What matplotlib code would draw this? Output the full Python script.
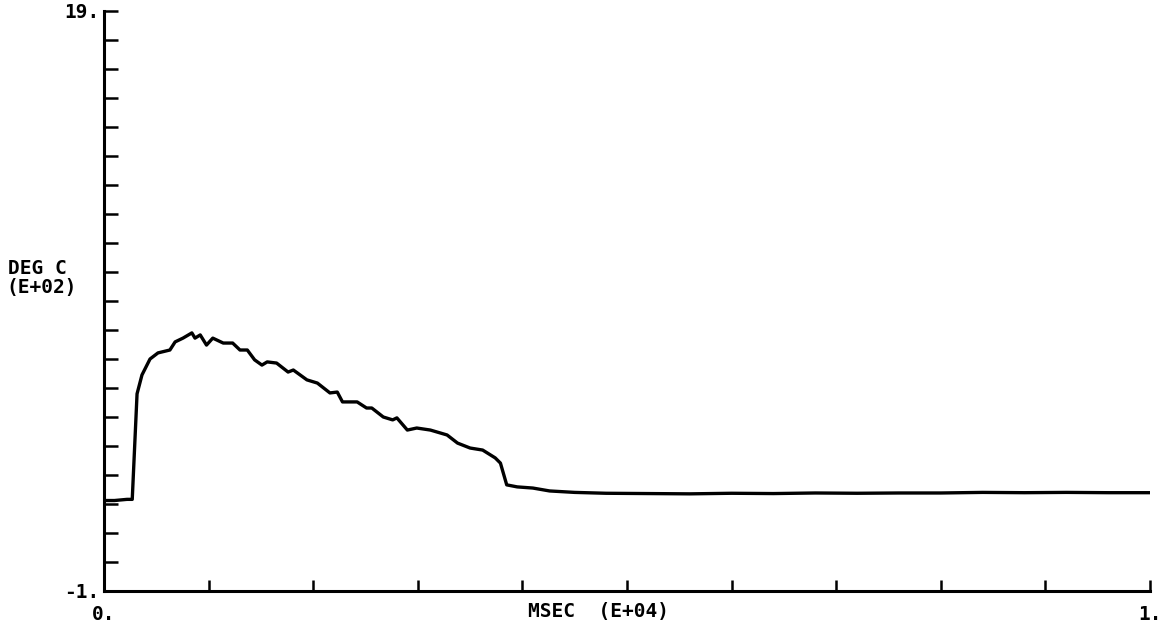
import matplotlib
matplotlib.use("Agg")
import matplotlib.pyplot as plt
import numpy as np

# Data: time (E+04 msec), temperature (E+02 deg C)
time_e4 = [0.000, 0.010, 0.022, 0.027, 0.0316, 0.0363, 0.044, 0.0516, 0.063, 0.068,
           0.0755, 0.084, 0.087, 0.092, 0.098, 0.104, 0.114, 0.123, 0.130, 0.137,
           0.144, 0.151, 0.156, 0.165, 0.176, 0.181, 0.194, 0.204, 0.216, 0.223,
           0.228, 0.242, 0.251, 0.256, 0.267, 0.276, 0.280, 0.290, 0.299, 0.312,
           0.328, 0.338, 0.350, 0.362, 0.374, 0.379, 0.385, 0.395, 0.410, 0.426,
           0.450, 0.480, 0.520, 0.560, 0.600, 0.640, 0.680, 0.720, 0.760, 0.800,
           0.840, 0.880, 0.920, 0.960, 1.000]
temp_e2 = [2.12, 2.12, 2.16, 2.16, 5.80, 6.45, 7.00, 7.21, 7.31, 7.59,
           7.72, 7.90, 7.72, 7.83, 7.48, 7.72, 7.55, 7.55, 7.31, 7.31,
           6.97, 6.79, 6.90, 6.86, 6.55, 6.62, 6.28, 6.17, 5.83, 5.86,
           5.52, 5.52, 5.31, 5.31, 5.00, 4.90, 4.97, 4.55, 4.62, 4.55,
           4.38, 4.10, 3.93, 3.86, 3.59, 3.41, 2.66, 2.59, 2.55, 2.45,
           2.40, 2.37, 2.36, 2.35, 2.37, 2.36, 2.38, 2.37, 2.38, 2.38,
           2.40, 2.39, 2.40, 2.39, 2.39]

y_ticks = list(range(-1, 20))
x_ticks = [0.0, 0.1, 0.2, 0.3, 0.4, 0.5, 0.6, 0.7, 0.8, 0.9, 1.0]
y_labels = ["-1."] + [""] * 19 + ["19."]
x_labels = ["0."] + [""] * 9 + ["1."]

FONT = "DejaVu Sans Mono"
FS = 14

fig = plt.figure(figsize=(11.66, 6.26), dpi=100)
ax = fig.add_axes([104 / 1166, 1 - 591 / 626, (1150 - 104) / 1166, (591 - 11) / 626])

ax.plot(time_e4, temp_e2, color="black", linewidth=2.4,
        solid_joinstyle="round", solid_capstyle="round")

ax.set_xlim(0, 1)
ax.set_ylim(-1, 19)
ax.set_xticks(x_ticks)
ax.set_xticklabels(x_labels, fontfamily=FONT, fontsize=FS, fontweight="bold")
ax.set_yticks(y_ticks)
ax.set_yticklabels(y_labels, fontfamily=FONT, fontsize=FS, fontweight="bold")
ax.tick_params(axis="y", direction="in", length=10, width=1.8, pad=3)
ax.tick_params(axis="x", direction="in", length=8, width=1.8, pad=10)

for s in ["top", "right"]:
    ax.spines[s].set_visible(False)
for s in ["left", "bottom"]:
    ax.spines[s].set_linewidth(2.2)

fig.text(8 / 1166, 1 - 269 / 626, "DEG C", fontfamily=FONT, fontsize=FS,
         fontweight="bold", ha="left", va="center")
fig.text(6 / 1166, 1 - 288 / 626, "(E+02)", fontfamily=FONT, fontsize=FS,
         fontweight="bold", ha="left", va="center")
fig.text(528 / 1166, 1 - 612 / 626, "MSEC  (E+04)", fontfamily=FONT, fontsize=FS,
         fontweight="bold", ha="left", va="center")

fig.savefig("out.png", dpi=100)
